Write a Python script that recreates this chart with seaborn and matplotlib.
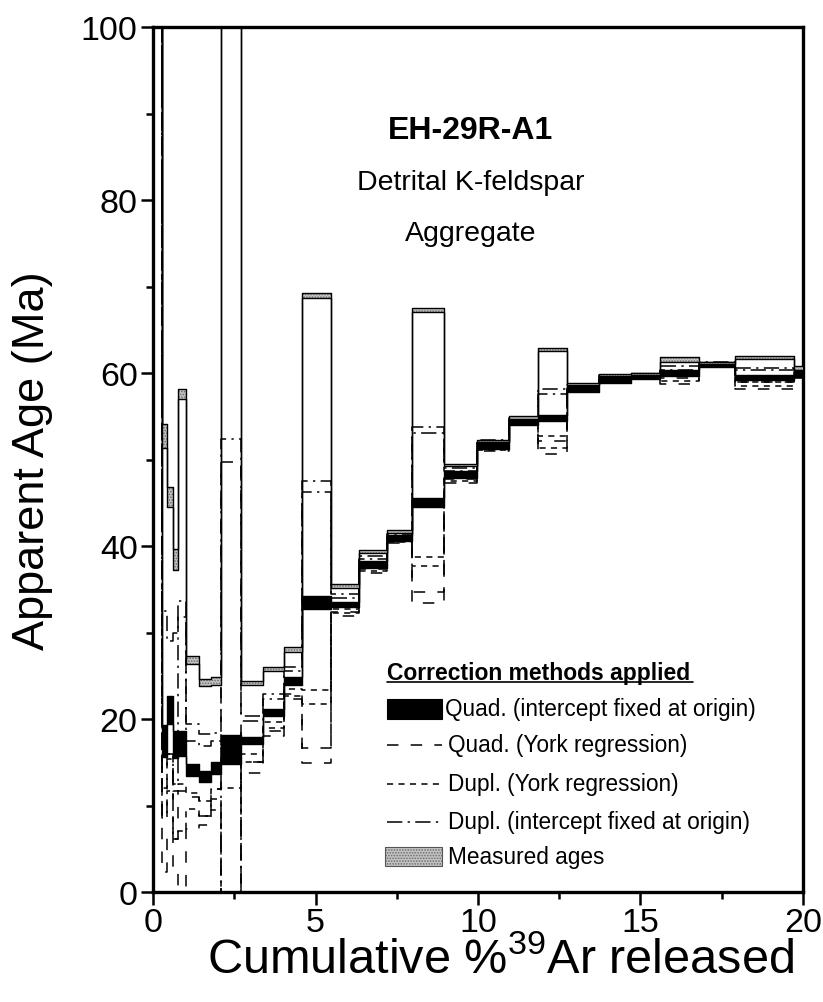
import matplotlib
matplotlib.use("Agg")
import matplotlib.pyplot as plt
import seaborn as sns
from matplotlib.patches import Rectangle
from matplotlib.lines import Line2D

# ---------------- data ----------------
# step boundaries, cumulative % 39Ar released
edges = [0.00, 0.27, 0.44, 0.62, 0.76, 1.03, 1.40, 1.77, 2.09, 2.71, 3.38, 4.02,
         4.59, 5.47, 6.35, 7.20, 7.97, 8.95, 9.98, 10.95, 11.84, 12.74, 13.73,
         14.71, 15.60, 16.80, 17.92, 19.71, 20.40]

# measured ages (lower / upper edge of the error box), Ma
meas_lo = [150, 51.3, 44.5, 37.2, 57.0, 26.4, 23.8, 23.9, 150, 23.9, 25.5, 27.8,
           68.7, 35.2, 39.15, 41.5, 67.1, 49.2, 52.0, 54.7, 62.5, 58.6, 59.6,
           59.8, 61.3, 61.0, 61.6, 60.3]
meas_hi = [160, 54.1, 46.8, 39.7, 58.2, 27.3, 24.6, 24.9, 160, 24.4, 26.0, 28.3,
           69.2, 35.6, 39.5, 41.85, 67.5, 49.5, 52.3, 55.0, 62.9, 58.9, 59.85,
           60.05, 61.8, 61.3, 62.0, 60.8]

# Quad. (intercept fixed at origin)
qfix_lo = [150, 15.6, 19.4, 15.5, 15.7, 13.45, 12.75, 13.6, 14.8, 17.1, 20.4, 23.9,
           32.7, 33.0, 37.5, 40.6, 44.5, 47.9, 51.2, 54.0, 54.5, 57.8, 58.9,
           59.3, 59.6, 60.65, 59.2, 59.5]
qfix_hi = [160, 19.3, 22.7, 18.6, 18.6, 14.8, 14.0, 15.0, 18.15, 17.95, 21.2, 24.8,
           34.2, 33.5, 38.3, 41.3, 45.5, 48.7, 52.0, 54.9, 55.1, 58.7, 59.8,
           60.0, 60.3, 61.3, 59.8, 60.6]

# Quad. (York regression)
qyork_lo = [150, 2.3, 6.9, 2.7, 0.5, 7.3, 7.7, 9.5, -5, 13.8, 18.0, 22.3,
            14.9, 31.9, 36.9, 40.4, 33.4, 47.3, 51.0, 54.1, 50.6, 57.9, 58.9,
            59.3, 58.7, 60.7, 58.2, 59.4]
qyork_hi = [160, 8.6, 15.4, 6.1, 11.7, 10.95, 8.8, 11.9, 49.75, 15.0, 18.6, 22.9,
            16.6, 32.4, 37.3, 40.8, 34.7, 47.7, 51.4, 54.5, 52.1, 58.3, 59.3,
            59.7, 59.4, 61.1, 59.0, 59.9]

# Dupl. (York regression)
dyork_lo = [150, 8.6, 11.7, 6.1, 7.0, 9.6, 8.8, 10.75, -5, 15.0, 19.0, 22.7,
            21.7, 32.3, 37.1, 40.5, 37.65, 47.5, 51.1, 54.2, 51.3, 58.0, 59.0,
            59.4, 59.1, 60.8, 58.5, 59.6]
dyork_hi = [160, 12.0, 16.0, 11.7, 12.5, 11.5, 10.5, 11.9, 12.0, 15.95, 19.7, 23.5,
            23.3, 32.7, 37.4, 40.9, 38.7, 47.9, 51.5, 54.6, 52.75, 58.4, 59.4,
            59.8, 59.6, 61.2, 59.0, 60.1]

# Dupl. (intercept fixed at origin)
dfix_lo = [150, 15.5, 16.0, 12.5, 31.8, 17.5, 16.9, 17.5, -5, 19.8, 22.3, 25.5,
           46.3, 34.0, 38.5, 41.0, 53.1, 48.7, 51.8, 54.6, 57.6, 58.3, 59.5,
           59.6, 60.4, 61.0, 60.3, 60.0]
dfix_hi = [160, 32.5, 29.0, 30.0, 33.6, 19.4, 18.3, 18.4, 52.4, 20.4, 22.9, 26.0,
           47.5, 34.5, 38.9, 41.4, 53.8, 49.0, 52.2, 54.9, 58.2, 58.6, 59.8,
           59.9, 60.8, 61.3, 60.6, 60.5]

x_ticks = [0, 5, 10, 15, 20]
y_ticks = [0, 20, 40, 60, 80, 100]

# ---------------- styles ----------------
LS_QYORK = (0, (7.5, 8.0))
LS_DYORK = (0, (4.0, 3.5))
LS_DFIX = (0, (10.0, 3.5, 1.5, 3.5))

sns.set_style("ticks")
plt.rcParams['font.family'] = ['Liberation Sans', 'DejaVu Sans']
plt.rcParams['mathtext.fontset'] = 'custom'
plt.rcParams['mathtext.rm'] = 'Liberation Sans'
plt.rcParams['mathtext.default'] = 'regular'
plt.rcParams['hatch.linewidth'] = 0.8
plt.rcParams['text.color'] = 'black'
plt.rcParams['axes.labelcolor'] = 'black'
plt.rcParams['xtick.color'] = 'black'
plt.rcParams['ytick.color'] = 'black'

fig = plt.figure(figsize=(8.23, 10.03), dpi=100)
ax = fig.add_axes([153 / 823, 1 - 893 / 1003, 650 / 823, 865 / 1003])


def stair(values, ls, lw=1.0, z=2):
    y = list(values) + [values[-1]]
    sns.lineplot(x=edges, y=y, ax=ax, sort=False, estimator=None, errorbar=None,
                 drawstyle='steps-post', color='black', linestyle=ls,
                 linewidth=lw, legend=False, zorder=z)


def ext(v):
    return list(v) + [v[-1]]


# dashed spectra
for lo, hi, ls in [(qyork_lo, qyork_hi, LS_QYORK),
                   (dyork_lo, dyork_hi, LS_DYORK),
                   (dfix_lo, dfix_hi, LS_DFIX)]:
    stair(lo, ls, lw=1.1, z=2)
    stair(hi, ls, lw=1.1, z=2)

# quad fixed (black band)
ax.fill_between(edges, ext(qfix_lo), ext(qfix_hi), step='post',
                facecolor='black', linewidth=0, zorder=3)
stair(qfix_lo, '-', lw=1.0, z=3)
stair(qfix_hi, '-', lw=1.0, z=3)

# measured ages (stippled gray band)
ax.fill_between(edges, ext(meas_lo), ext(meas_hi), step='post',
                facecolor='#c4c4c4', edgecolor='#6a6a6a', hatch='......',
                linewidth=0, zorder=4)
stair(meas_lo, '-', lw=1.0, z=5)
stair(meas_hi, '-', lw=1.0, z=5)

# ---------------- axes ----------------
ax.set_xlim(0, 20)
ax.set_ylim(0, 100)
ax.set_xticks(x_ticks)
ax.set_xticks([2.5, 7.5, 12.5, 17.5], minor=True)
ax.set_yticks(y_ticks)
ax.set_yticks([10, 30, 50, 70, 90], minor=True)
ax.tick_params(which='major', direction='out', length=9, width=1.8,
               labelsize=24.5, pad=2, bottom=True, left=True, top=False, right=False)
ax.tick_params(which='minor', direction='out', length=5, width=1.8,
               bottom=True, left=True, top=False, right=False)
for s in ax.spines.values():
    s.set_linewidth(2.4)
    s.set_color('black')

ax.set_xlabel(r'Cumulative %$^{39}$Ar released', fontsize=35)
ax.set_ylabel('Apparent Age (Ma)', fontsize=32.5)
ax.xaxis.label.set_va('center')
ax.yaxis.label.set_va('center')
ax.xaxis.set_label_coords(0.535, -0.0775)
ax.yaxis.set_label_coords(-0.185, 0.5)

# sample annotation
ax.text(0.489, 0.881, 'EH-29R-A1', transform=ax.transAxes, ha='center', va='center',
        fontsize=23, fontweight='bold')
ax.text(0.489, 0.821, 'Detrital K-feldspar', transform=ax.transAxes, ha='center',
        va='center', fontsize=20.5)
ax.text(0.489, 0.762, 'Aggregate', transform=ax.transAxes, ha='center', va='center',
        fontsize=20.5)

# ---------------- legend (manual) ----------------
hx0, hx1 = 0.3595, 0.4442
tx = 0.4538
ax.text(hx0, 0.2543, 'Correction methods applied', transform=ax.transAxes,
        ha='left', va='center', fontsize=16.5, fontweight='bold')
ax.add_line(Line2D([hx0, 0.8312], [0.2425, 0.2425], transform=ax.transAxes,
                   color='black', lw=1.2, clip_on=False))

rows = [0.2116, 0.1705, 0.1254, 0.0815, 0.0416]
labels = ['Quad. (intercept fixed at origin)', 'Quad. (York regression)',
          'Dupl. (York regression)', 'Dupl. (intercept fixed at origin)',
          'Measured ages']
ax.add_patch(Rectangle((hx0, rows[0] - 0.0112), hx1 - hx0, 0.0224,
                       transform=ax.transAxes, facecolor='black', edgecolor='black',
                       lw=0.8, clip_on=False, zorder=6))
for yy, ls in zip(rows[1:4], [LS_QYORK, LS_DYORK, LS_DFIX]):
    ax.add_line(Line2D([hx0, hx1], [yy, yy], transform=ax.transAxes, color='black',
                       lw=1.1, linestyle=ls, clip_on=False))
ax.add_patch(Rectangle((hx0 - 0.002, rows[4] - 0.011), hx1 - hx0 + 0.002, 0.022,
                       transform=ax.transAxes, facecolor='#c4c4c4',
                       edgecolor='#6a6a6a', hatch='......', lw=0.0,
                       clip_on=False, zorder=6))
ax.add_patch(Rectangle((hx0 - 0.002, rows[4] - 0.011), hx1 - hx0 + 0.002, 0.022,
                       transform=ax.transAxes, facecolor='none',
                       edgecolor='#555555', lw=0.8, clip_on=False, zorder=7))
for i, (yy, lab) in enumerate(zip(rows, labels)):
    ax.text(tx - (0.004 if i == 0 else 0), yy, lab, transform=ax.transAxes,
            ha='left', va='center', fontsize=16.3)

fig.savefig('out.png', dpi=100)
